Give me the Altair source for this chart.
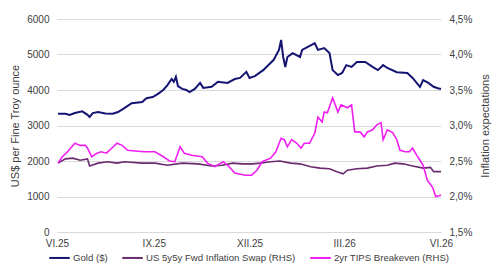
import altair as alt
import pandas as pd

# Gold price, US$ per troy ounce
gold_dates = [
    "2025-06-02", "2025-06-09", "2025-06-13", "2025-06-18", "2025-06-25", "2025-06-30",
    "2025-07-02", "2025-07-05", "2025-07-10", "2025-07-17", "2025-07-24", "2025-07-29",
    "2025-08-04", "2025-08-11", "2025-08-21", "2025-08-25", "2025-08-31", "2025-09-05",
    "2025-09-10", "2025-09-14", "2025-09-18", "2025-09-20", "2025-09-22", "2025-09-24",
    "2025-09-28", "2025-10-02", "2025-10-05", "2025-10-10", "2025-10-15", "2025-10-18",
    "2025-10-26", "2025-11-01", "2025-11-10", "2025-11-17", "2025-11-22", "2025-11-28",
    "2025-12-01", "2025-12-06", "2025-12-14", "2025-12-24", "2025-12-29", "2025-12-31",
    "2026-01-02", "2026-01-04", "2026-01-06", "2026-01-11", "2026-01-18", "2026-01-20",
    "2026-01-29", "2026-02-01", "2026-02-04", "2026-02-10", "2026-02-15", "2026-02-18",
    "2026-02-23", "2026-02-27", "2026-03-03", "2026-03-08", "2026-03-13", "2026-03-21",
    "2026-03-28", "2026-04-02", "2026-04-07", "2026-04-11", "2026-04-20", "2026-04-30",
    "2026-05-05", "2026-05-12", "2026-05-15", "2026-05-20", "2026-05-25", "2026-05-29",
    "2026-06-01",
]
gold_values = [
    3330, 3330, 3300, 3350, 3400, 3300,
    3240, 3350, 3380, 3340, 3330, 3380,
    3490, 3630, 3660, 3770, 3800, 3890,
    4000, 4140, 4310, 4230, 4370, 4110,
    4030, 4000, 3940, 4030, 4200, 4060,
    4090, 4230, 4200, 4310, 4340, 4510,
    4340, 4390, 4560, 4850, 5130, 5410,
    4930, 4650, 4930, 5040, 4930, 5130,
    5270, 5320, 5130, 5180, 5040, 4560,
    4420, 4480, 4700, 4650, 4790, 4790,
    4650, 4560, 4700, 4620, 4500, 4480,
    4340, 4090, 4280, 4200, 4090, 4050,
    4030,
]

# US 5y5y forward inflation swap, %
swap_dates = [
    "2025-06-02", "2025-06-09", "2025-06-16", "2025-06-23", "2025-06-30", "2025-07-02",
    "2025-07-10", "2025-07-19", "2025-07-28", "2025-08-04", "2025-08-21", "2025-09-02",
    "2025-09-14", "2025-09-28", "2025-10-13", "2025-10-26", "2025-11-05", "2025-11-15",
    "2025-11-24", "2025-12-04", "2025-12-11", "2025-12-21", "2025-12-30", "2026-01-09",
    "2026-01-18", "2026-01-28", "2026-02-06", "2026-02-15", "2026-02-22", "2026-02-28",
    "2026-03-04", "2026-03-13", "2026-03-23", "2026-04-01", "2026-04-11", "2026-04-18",
    "2026-04-26", "2026-05-05", "2026-05-15", "2026-05-22", "2026-05-25", "2026-06-01",
]
swap_values = [
    2.47, 2.53, 2.54, 2.51, 2.53, 2.43,
    2.47, 2.49, 2.47, 2.49, 2.47, 2.47,
    2.44, 2.47, 2.46, 2.43, 2.44, 2.47,
    2.46, 2.46, 2.47, 2.49, 2.50, 2.47,
    2.46, 2.42, 2.40, 2.39, 2.35, 2.32,
    2.37, 2.39, 2.40, 2.43, 2.44, 2.47,
    2.46, 2.43, 2.40, 2.41, 2.35, 2.35,
]

# 2yr TIPS breakeven, %
tips_dates = [
    "2025-06-02", "2025-06-06", "2025-06-11", "2025-06-18", "2025-06-23", "2025-06-28",
    "2025-06-30", "2025-07-04", "2025-07-09", "2025-07-13", "2025-07-18", "2025-07-23",
    "2025-07-28", "2025-08-02", "2025-08-07", "2025-08-14", "2025-08-23", "2025-09-02",
    "2025-09-09", "2025-09-16", "2025-09-21", "2025-09-26", "2025-09-30", "2025-10-07",
    "2025-10-17", "2025-10-22", "2025-10-29", "2025-11-06", "2025-11-11", "2025-11-17",
    "2025-11-27", "2025-12-03", "2025-12-08", "2025-12-13", "2025-12-21", "2025-12-26",
    "2025-12-31", "2026-01-03", "2026-01-06", "2026-01-10", "2026-01-15", "2026-01-19",
    "2026-01-22", "2026-01-27", "2026-02-01", "2026-02-04", "2026-02-08", "2026-02-10",
    "2026-02-13", "2026-02-18", "2026-02-23", "2026-02-26", "2026-03-01", "2026-03-04",
    "2026-03-08", "2026-03-11", "2026-03-16", "2026-03-20", "2026-03-23", "2026-03-28",
    "2026-04-01", "2026-04-05", "2026-04-07", "2026-04-11", "2026-04-16", "2026-04-20",
    "2026-04-23", "2026-04-28", "2026-05-02", "2026-05-05", "2026-05-09", "2026-05-12",
    "2026-05-15", "2026-05-19", "2026-05-24", "2026-05-27", "2026-05-30", "2026-06-01",
]
tips_values = [
    2.47, 2.56, 2.63, 2.75, 2.72, 2.72,
    2.68, 2.56, 2.61, 2.63, 2.61, 2.68,
    2.75, 2.72, 2.65, 2.64, 2.63, 2.63,
    2.57, 2.50, 2.49, 2.70, 2.61, 2.58,
    2.56, 2.47, 2.42, 2.49, 2.43, 2.33,
    2.30, 2.30, 2.37, 2.49, 2.54, 2.63,
    2.82, 2.80, 2.70, 2.80, 2.75, 2.68,
    2.75, 2.75, 2.89, 3.12, 3.05, 3.19,
    3.18, 3.39, 3.19, 3.29, 3.27, 3.25,
    3.29, 2.91, 2.91, 2.84, 2.91, 2.94,
    3.01, 3.04, 2.80, 2.94, 2.90, 2.80,
    2.65, 2.63, 2.63, 2.68, 2.58, 2.51,
    2.44, 2.23, 2.13, 2.00, 2.01, 2.02,
]

series_names = ["Gold ($)", "US 5y5y Fwd Inflation Swap (RHS)", "2yr TIPS Breakeven (RHS)"]
series_colors = ["#141473", "#6a2a6e", "#f01ef0"]

left_ticks = [0, 1000, 2000, 3000, 4000, 5000, 6000]
right_ticks = [1.5, 2.0, 2.5, 3.0, 3.5, 4.0, 4.5]

gold_df = pd.DataFrame({"date": gold_dates, "value": gold_values, "series": series_names[0]})
rhs_df = pd.concat([
    pd.DataFrame({"date": swap_dates, "value": swap_values, "series": series_names[1]}),
    pd.DataFrame({"date": tips_dates, "value": tips_values, "series": series_names[2]}),
])

FONT = "Liberation Sans"
TEXT = "#404040"
PLOT_W, PLOT_H = 384, 213

x_enc = alt.X(
    "date:T",
    scale=alt.Scale(
        type="utc",
        domain=[alt.DateTime(year=2025, month=6, date=1, utc=True),
                alt.DateTime(year=2026, month=6, date=1, utc=True)],
    ),
    axis=alt.Axis(
        title=None,
        values=[alt.DateTime(year=2025, month=6, date=1, utc=True),
                alt.DateTime(year=2025, month=9, date=1, utc=True),
                alt.DateTime(year=2025, month=12, date=1, utc=True),
                alt.DateTime(year=2026, month=3, date=1, utc=True),
                alt.DateTime(year=2026, month=6, date=1, utc=True)],
        labelExpr="['I','II','III','IV','V','VI','VII','VIII','IX','X','XI','XII'][utcmonth(datum.value)] + '.' + utcFormat(datum.value, '%y')",
        grid=False, ticks=False, domain=False,
        labelPadding=6, labelFlush=False,
    ),
)

color_enc = alt.Color(
    "series:N",
    scale=alt.Scale(domain=series_names, range=series_colors),
    legend=alt.Legend(
        title=None, orient="none", direction="horizontal",
        legendX=-9, legendY=227,
        symbolType="stroke", symbolSize=420, symbolStrokeWidth=2,
        columnPadding=10, labelOffset=2,
        labelFont=FONT, labelFontSize=9.6, labelColor=TEXT,
    ),
)

gold_line = alt.Chart(gold_df).mark_line(strokeWidth=2, interpolate="linear").encode(
    x=x_enc,
    y=alt.Y(
        "value:Q",
        scale=alt.Scale(domain=[0, 6000], nice=False, zero=False),
        axis=alt.Axis(
            title="US$ per Fine Troy ounce", orient="left", values=left_ticks,
            format="d",
            grid=True, gridColor="#d9d9d9", ticks=False, domain=False,
            labelPadding=8,
            titleX=-42, titleY=PLOT_H / 2, titleAngle=270,
            titleAlign="center", titleBaseline="middle", titleFontWeight="normal",
        ),
    ),
    color=color_enc,
)

rhs_lines = alt.Chart(rhs_df).mark_line(strokeWidth=1.6, interpolate="linear").encode(
    x=x_enc,
    y=alt.Y(
        "value:Q",
        scale=alt.Scale(domain=[1.5, 4.5], nice=False, zero=False),
        axis=alt.Axis(
            title="Inflation expectations", orient="right", values=right_ticks,
            labelExpr="replace(format(datum.value, '.1f'), '.', ',') + '%'",
            grid=False, ticks=False, domain=False,
            labelPadding=8,
            titleX=44, titleY=PLOT_H / 2, titleAngle=270,
            titleAlign="center", titleBaseline="middle", titleFontWeight="normal",
        ),
    ),
    color=color_enc,
    detail="series:N",
)

chart = (
    alt.layer(rhs_lines, gold_line)
    .resolve_scale(y="independent")
    .properties(
        width=PLOT_W, height=PLOT_H,
        autosize=alt.AutoSizeParams(type="none"),
        padding={"left": 57, "top": 19, "right": 59, "bottom": 43},
        background="white",
    )
    .configure_view(stroke=None)
    .configure_axis(
        labelFont=FONT, labelFontSize=10, labelColor=TEXT,
        titleFont=FONT, titleFontSize=11, titleColor=TEXT,
    )
)

chart.save("out.html", embed_options={"renderer": "svg", "actions": False})
